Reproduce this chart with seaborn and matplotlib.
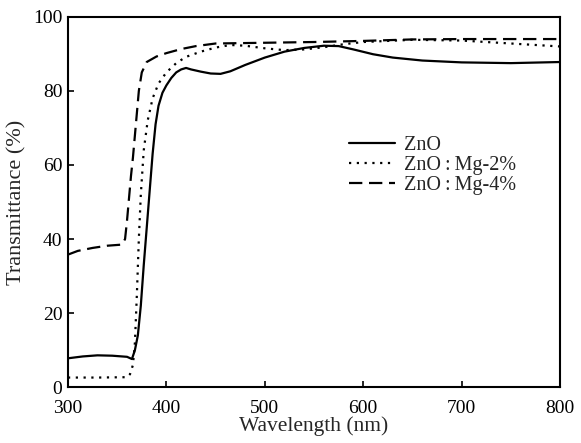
import matplotlib
matplotlib.use("Agg")
import matplotlib.pyplot as plt
import seaborn as sns
import pandas as pd

wl_zno = [300, 315, 330, 345, 360, 365, 368, 371, 374, 377, 380, 383, 386, 389, 392, 396,
          400, 405, 410, 415, 420, 425, 435, 445, 455, 465, 480, 500, 520, 540, 560, 575,
          590, 610, 630, 660, 700, 750, 800]
t_zno = [7.8, 8.3, 8.6, 8.5, 8.2, 7.6, 10, 14, 22, 33, 43, 53, 63, 71, 76, 79.5,
         81.5, 83.5, 85, 85.8, 86.2, 85.8, 85.2, 84.7, 84.6, 85.3, 87, 89, 90.6, 91.6, 92.2, 92.1,
         91.2, 89.9, 89, 88.2, 87.7, 87.5, 87.8]

wl_mg2 = [300, 330, 360, 363, 366, 368, 370, 372, 374, 377, 381, 386, 392, 400, 410, 420,
          435, 450, 465, 480, 500, 520, 540, 560, 580, 600, 650, 700, 750, 800]
t_mg2 = [2.6, 2.6, 2.7, 3.5, 6, 12, 25, 40, 52, 64, 72, 78, 82, 85, 87.5, 89.2,
         90.6, 91.7, 92.4, 92.2, 91.5, 91, 91.2, 91.8, 92.6, 93.2, 93.8, 93.6, 92.8, 92.0]

wl_mg4 = [300, 310, 325, 340, 355, 358, 360, 362, 364, 366, 368, 370, 372, 375, 380, 390,
          400, 415, 430, 450, 500, 550, 600, 650, 700, 800]
t_mg4 = [35.8, 36.8, 37.6, 38.2, 38.5, 40, 45, 51, 57, 62, 68, 74, 80, 85, 87.8, 89.3,
         90.2, 91.3, 92.1, 92.8, 93.0, 93.2, 93.5, 93.9, 94.0, 94.0]

labels = ["ZnO", "ZnO\u2009:\u2009Mg-2%", "ZnO\u2009:\u2009Mg-4%"]

df = pd.concat([
    pd.DataFrame({"wl": wl_zno, "T": t_zno, "s": labels[0]}),
    pd.DataFrame({"wl": wl_mg2, "T": t_mg2, "s": labels[1]}),
    pd.DataFrame({"wl": wl_mg4, "T": t_mg4, "s": labels[2]}),
])

sns.set_theme(style="ticks")
plt.rcParams["font.family"] = ["Liberation Serif", "DejaVu Serif"]

fig = plt.figure(figsize=(5.81, 4.43), dpi=100)
ax = fig.add_axes([0.117, 0.126, 0.847, 0.836])

styles = {labels[0]: "-", labels[1]: (0, (1, 2.5)), labels[2]: (0, (6, 3))}
for lab in labels:
    sub = df[df["s"] == lab]
    sns.lineplot(data=sub, x="wl", y="T", ax=ax, color="black", linewidth=1.6,
                 linestyle=styles[lab], label=lab, sort=False)

ax.set_xlim(300, 800)
ax.set_ylim(0, 100)
ax.set_xticks([300, 400, 500, 600, 700, 800])
ax.set_yticks([0, 20, 40, 60, 80, 100])
ax.tick_params(direction="in", length=4, width=1.2, labelsize=14,
               top=False, right=False, colors="black")
ax.tick_params(axis="x", pad=9)
ax.tick_params(axis="y", pad=4)
for sp in ax.spines.values():
    sp.set_linewidth(1.5)
    sp.set_color("black")
ax.set_xlabel("Wavelength (nm)", fontsize=15.5, labelpad=0)
ax.set_ylabel("Transmittance (%)", fontsize=16, labelpad=5)

leg = ax.legend(loc="upper left", bbox_to_anchor=(0.555, 0.70), frameon=False,
                fontsize=14.5, handlelength=2.3, handletextpad=0.4, labelspacing=0.05,
                borderaxespad=0)

fig.savefig("out.png", dpi=100)
